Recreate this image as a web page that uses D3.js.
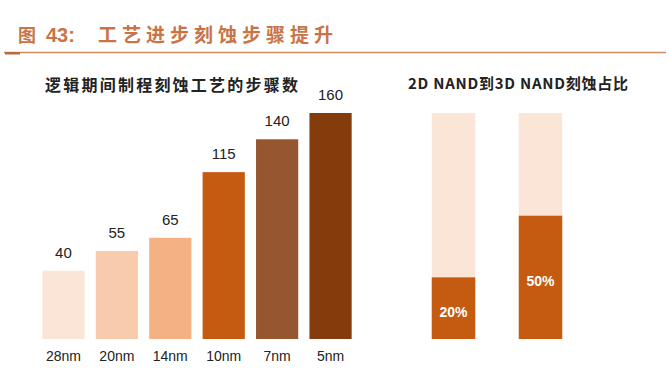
<!DOCTYPE html>
<html><head><meta charset="utf-8">
<script src="https://cdn.jsdelivr.net/npm/d3@7"></script>
<style>body{margin:0;background:#fff}svg{display:block}</style>
</head><body>
<script>
const nodes = ["28nm","20nm","14nm","10nm","7nm","5nm"];
const steps = [40,55,65,115,140,160];
const nodeColors = ["#fbe5d6","#f8cbad","#f4b183","#c55a11","#955630","#843c0c"];
const nandCats = ["2D NAND","3D NAND"];
const nandShare = [20,50];
const nandLabels = ["20%","50%"];

const W=669,H=368;
const svg=d3.select("body").append("svg").attr("width",W).attr("height",H);
const cjk="'Noto Sans CJK SC','Noto Sans',sans-serif";

// Title
const tc="#c87446";
svg.append("text").attr("x",18).attr("y",42).attr("fill",tc).attr("font-family",cjk).attr("font-weight","bold").attr("font-size",18).text("图");
svg.append("text").attr("x",46).attr("y",42).attr("fill",tc).attr("font-family","'Liberation Sans',Arial,sans-serif").attr("font-weight","bold").attr("font-size",20).text("43:");
svg.append("text").attr("x",98).attr("y",42).attr("fill",tc).attr("font-family",cjk).attr("font-weight","bold").attr("font-size",19)
  .attr("textLength",235).attr("lengthAdjust","spacing").text("工艺进步刻蚀步骤提升");
svg.append("line").attr("x1",4).attr("x2",666).attr("y1",52.5).attr("y2",52.5).attr("stroke","#d08a62").attr("stroke-width",1.5);
svg.append("rect").attr("x",5).attr("y",52).attr("width",15).attr("height",2.5).attr("fill","#b86a40");

// Left chart
const base=339;
const x=d3.scaleBand().domain(nodes).range([37,357]).paddingInner(0.21).paddingOuter(0.1);
const y=d3.scaleLinear().domain([-12,160]).range([base,113]);
svg.append("text").attr("x",45).attr("y",91).attr("fill","#222").attr("font-family",cjk).attr("font-weight","bold").attr("font-size",16)
  .attr("textLength",253).attr("lengthAdjust","spacing").text("逻辑期间制程刻蚀工艺的步骤数");
const g=svg.append("g");
g.selectAll("rect").data(nodes).join("rect")
  .attr("x",d=>x(d)).attr("width",x.bandwidth())
  .attr("y",(d,i)=>y(steps[i])).attr("height",(d,i)=>base-y(steps[i]))
  .attr("fill",(d,i)=>nodeColors[i]);
g.selectAll("text.v").data(nodes).join("text").attr("class","v")
  .attr("x",d=>x(d)+x.bandwidth()/2).attr("y",(d,i)=>y(steps[i])-13)
  .attr("text-anchor","middle").attr("font-family","'Liberation Sans',Arial,sans-serif").attr("font-size",15).attr("fill","#222")
  .text((d,i)=>steps[i]);
g.selectAll("text.c").data(nodes).join("text").attr("class","c")
  .attr("x",d=>x(d)+x.bandwidth()/2).attr("y",361)
  .attr("text-anchor","middle").attr("font-family","'Liberation Sans Narrow','Liberation Sans',Arial,sans-serif").attr("font-size",14).attr("fill","#222")
  .text(d=>d);

// Right chart
svg.append("text").attr("x",408).attr("y",89).attr("fill","#222").attr("font-family",cjk).attr("font-weight","bold").attr("font-size",15)
  .attr("textLength",220).attr("lengthAdjust","spacing").text("2D NAND到3D NAND刻蚀占比");
const x2=d3.scaleBand().domain(nandCats).range([410,584]).paddingInner(0.5).paddingOuter(0.25);
const y2=d3.scaleLinear().domain([-10,100]).range([base,113]);
const g2=svg.append("g");
g2.selectAll("rect.bg").data(nandCats).join("rect").attr("class","bg")
  .attr("x",d=>x2(d)).attr("width",x2.bandwidth()).attr("y",y2(100)).attr("height",base-y2(100)).attr("fill","#fbe5d6");
g2.selectAll("rect.fg").data(nandCats).join("rect").attr("class","fg")
  .attr("x",d=>x2(d)).attr("width",x2.bandwidth()).attr("y",(d,i)=>y2(nandShare[i])).attr("height",(d,i)=>base-y2(nandShare[i])).attr("fill","#c55a11");
g2.selectAll("text").data(nandCats).join("text")
  .attr("x",d=>x2(d)+x2.bandwidth()/2).attr("y",(d,i)=>(y2(nandShare[i])+base)/2+9)
  .attr("text-anchor","middle").attr("font-family","'Liberation Sans Narrow','Liberation Sans',Arial,sans-serif").attr("font-weight","bold").attr("font-size",14).attr("fill","#fff")
  .text((d,i)=>nandLabels[i]);
</script>
</body></html>
